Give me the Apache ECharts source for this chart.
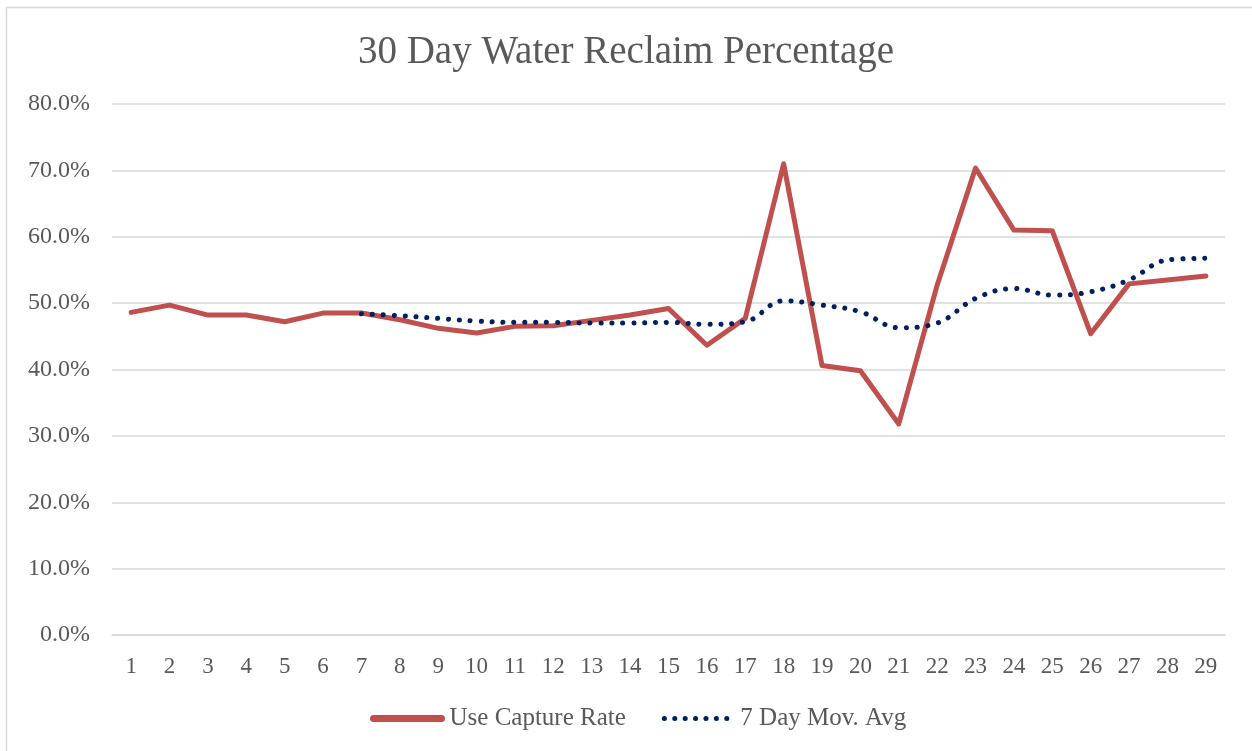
<!DOCTYPE html>
<html>
<head>
<meta charset="utf-8">
<script src="https://cdn.jsdelivr.net/npm/echarts@6/dist/echarts.min.js"></script>
<style>
html,body{margin:0;padding:0;background:#fff;}
#chart{width:1252px;height:751px;}
</style>
</head>
<body>
<div id="chart"></div>
<script>
var days = ['1','2','3','4','5','6','7','8','9','10','11','12','13','14','15','16','17','18','19','20','21','22','23','24','25','26','27','28','29'];
var captureRate = [48.6,49.7,48.2,48.2,47.2,48.5,48.5,47.5,46.2,45.5,46.5,46.6,47.4,48.2,49.2,43.65,47.7,71.0,40.6,39.8,31.8,52.7,70.35,61.0,60.9,45.4,52.9,53.5,54.1];
var movAvg = ['-','-','-','-','-','-',48.4,48.1,47.7,47.3,47.1,47.1,47.0,47.0,47.1,46.8,47.2,50.35,49.7,48.7,46.3,47.0,50.7,52.2,51.2,51.7,53.5,56.5,56.75];
var yTicks = {min:0, max:80, interval:10};

var font = '"Liberation Serif", "DejaVu Serif", serif';
var chart = echarts.init(document.getElementById('chart'), null, {renderer:'canvas'});
chart.setOption({
  animation:false,
  backgroundColor:'#ffffff',
  graphic:[{
    type:'rect', silent:true, z:-1,
    shape:{x:6.5, y:7.5, width:1300, height:800},
    style:{fill:'none', stroke:'#d9d9d9', lineWidth:1.5}
  }],
  title:{
    text:'30 Day Water Reclaim Percentage',
    left:'center', top:28,
    textStyle:{fontFamily:font, fontSize:39, fontWeight:'normal', color:'#595959'}
  },
  legend:{
    bottom:15, left:365,
    itemWidth:68, itemHeight:14, itemGap:36,
    itemStyle:{opacity:0},
    textStyle:{fontFamily:font, fontSize:25, color:'#595959', padding:[0,0,0,3]},
    data:[
      {name:'Use Capture Rate', itemStyle:{opacity:0},
       lineStyle:{color:'#C0504D', width:7, cap:'round'}},
      {name:'7 Day Mov. Avg', itemStyle:{opacity:0},
       lineStyle:{color:'#002060', width:5, type:[0.1,10.3], cap:'round'}}
    ]
  },
  grid:{left:112, right:27, top:104, bottom:116, containLabel:false},
  xAxis:{
    type:'category', data:days, boundaryGap:true,
    axisLine:{show:true, lineStyle:{color:'#d9d9d9', width:1.5}},
    axisTick:{show:false},
    axisLabel:{fontFamily:font, fontSize:23, color:'#595959', margin:20}
  },
  yAxis:{
    type:'value', min:yTicks.min, max:yTicks.max, interval:yTicks.interval,
    axisLine:{show:false}, axisTick:{show:false},
    splitLine:{lineStyle:{color:'#d9d9d9', width:1.5}},
    axisLabel:{fontFamily:font, fontSize:24, color:'#595959', margin:22,
      formatter:function(v){return v.toFixed(1)+'%';}}
  },
  series:[
    {
      name:'Use Capture Rate', type:'line', data:captureRate,
      symbol:'none', smooth:false,
      lineStyle:{color:'#C0504D', width:5, cap:'round', join:'round'},
      itemStyle:{color:'#C0504D'}
    },
    {
      name:'7 Day Mov. Avg', type:'line', data:movAvg,
      symbol:'none', smooth:0.4,
      lineStyle:{color:'#002060', width:5, type:[0.1,10.8], cap:'round'},
      itemStyle:{color:'#002060'}
    }
  ]
});
</script>
</body>
</html>
